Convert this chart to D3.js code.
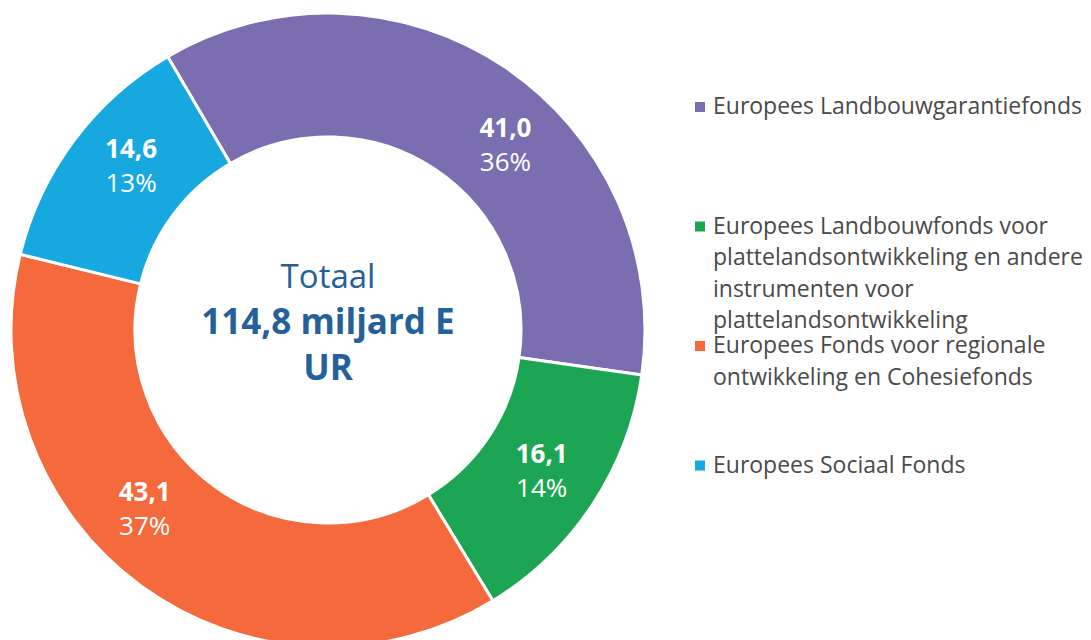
<!DOCTYPE html>
<html>
<head>
<meta charset="utf-8">
<script src="https://cdn.jsdelivr.net/npm/d3@7"></script>
<style>
  body { margin: 0; background: #fff; }
  svg { display: block; font-family: "Open Sans", "Noto Sans", sans-serif; }
</style>
</head>
<body>
<div id="donut"></div>
<script>
// chart data
var categories = [
  ["Europees Landbouwgarantiefonds"],
  ["Europees Landbouwfonds voor", "plattelandsontwikkeling en andere", "instrumenten voor", "plattelandsontwikkeling"],
  ["Europees Fonds voor regionale", "ontwikkeling en Cohesiefonds"],
  ["Europees Sociaal Fonds"]
];
var values = [41.0, 16.1, 43.1, 14.6];
var valueLabels = ["41,0", "16,1", "43,1", "14,6"];
var percentLabels = ["36%", "14%", "37%", "13%"];
var totalLines = ["Totaal", "114,8 miljard E", "UR"];

var svgWidth = 1091;
var svgHeight = 640;

var cx = 328;
var cy = 330;
var outerRadius = 317;
var innerRadius = 193;
var labelRadius = 256;
// labels in the original are nudged a little off the slice middle (degrees)
var labelNudge = [10, 0, 9.5, 3];

var color = d3.scaleOrdinal()
  .domain(d3.range(values.length))
  .range(["#7a6db0", "#1ca654", "#f46a3d", "#17a8e0"]);

var svg = d3.select("#donut")
  .append("svg")
  .attr("width", svgWidth)
  .attr("height", svgHeight);

var chartGroup = svg.append("g")
  .attr("transform", `translate(${cx}, ${cy})`);

// first slice starts a bit left of twelve o'clock, no sorting
var pie = d3.pie()
  .sort(null)
  .startAngle(-30.4 * Math.PI / 180)
  .endAngle((360 - 30.4) * Math.PI / 180)
  .value(d => d);

var arc = d3.arc()
  .innerRadius(innerRadius)
  .outerRadius(outerRadius);

var arcs = pie(values);

function labelPos(d, i) {
  var a = (d.startAngle + d.endAngle) / 2 + labelNudge[i] * Math.PI / 180;
  return [labelRadius * Math.sin(a), -labelRadius * Math.cos(a)];
}

chartGroup.selectAll("path.slice")
  .data(arcs)
  .enter()
  .append("path")
  .attr("class", "slice")
  .attr("d", arc)
  .attr("fill", (d, i) => color(i))
  .attr("stroke", "#fff")
  .attr("stroke-width", 3)
  .attr("stroke-linejoin", "round");

// value + percentage inside each slice
var labels = chartGroup.selectAll("g.label")
  .data(arcs)
  .enter()
  .append("g")
  .attr("class", "label")
  .attr("transform", (d, i) => `translate(${labelPos(d, i)})`);

labels.append("text")
  .attr("text-anchor", "middle")
  .attr("y", -8)
  .attr("fill", "#fff")
  .style("font-size", "26px")
  .style("font-weight", "700")
  .text((d, i) => valueLabels[i]);

labels.append("text")
  .attr("text-anchor", "middle")
  .attr("y", 26)
  .attr("fill", "#fff")
  .style("font-size", "26px")
  .style("font-weight", "400")
  .text((d, i) => percentLabels[i]);

// total in the middle
chartGroup.selectAll("text.total")
  .data(totalLines)
  .enter()
  .append("text")
  .attr("class", "total")
  .attr("text-anchor", "middle")
  .attr("y", (d, i) => -42 + i * 46)
  .attr("fill", "#24609a")
  .style("font-size", (d, i) => i == 0 ? "33px" : "35px")
  .style("font-weight", (d, i) => i == 0 ? "400" : "700")
  .text(d => d);

// legend on the right
var legend = svg.append("g")
  .attr("transform", "translate(695, 114)");

var items = legend.selectAll("g.item")
  .data(categories)
  .enter()
  .append("g")
  .attr("class", "item")
  .attr("transform", (d, i) => `translate(0, ${i * 119.5})`);

items.append("rect")
  .attr("x", 0)
  .attr("y", -12)
  .attr("width", 10)
  .attr("height", 10)
  .attr("fill", (d, i) => color(i));

items.selectAll("text")
  .data(d => d)
  .enter()
  .append("text")
  .attr("x", 18)
  .attr("y", (d, j) => j * 31.5)
  .attr("fill", "#4a4a4a")
  .style("font-size", "23px")
  .text(d => d);
</script>
</body>
</html>
